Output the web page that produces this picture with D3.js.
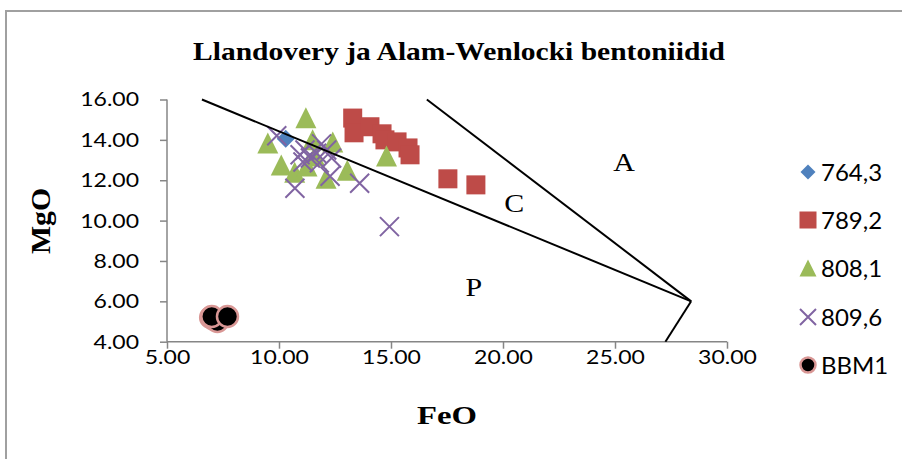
<!DOCTYPE html>
<html><head><meta charset="utf-8">
<script src="https://cdn.jsdelivr.net/npm/d3@7"></script>
<style>body{margin:0;background:#fff}svg{display:block}</style>
</head><body><svg id="c" width="902" height="459"></svg>
<script>
const xTicks = [5, 10, 15, 20, 25, 30];
const yTicks = [4, 6, 8, 10, 12, 14, 16];
const seriesNames = ["764,3", "789,2", "808,1", "809,6", "BBM1"];
const s764 = [[10.3, 14.05]];
const s789 = [[13.29,15.08],[13.35,14.35],[14.06,14.65],[14.6,14.3],[14.73,14.0],[15.27,13.9],[15.76,13.6],[15.85,13.26],[17.54,12.07],[18.79,11.77]];
const s808 = [[9.5,13.85],[11.2,15.1],[11.5,14.0],[12.4,13.9],[10.1,12.75],[10.7,12.4],[11.25,12.7],[12.1,12.1],[13.05,12.5],[14.8,13.2],[11.6,13.2]];
const s809 = [[9.9,14.2],[10.94,13.26],[11.16,13.5],[11.4,13.1],[11.68,13.34],[11.8,12.86],[12.13,13.5],[12.35,13.1],[12.28,12.2],[10.71,11.6],[13.6,11.85],[11.07,12.9],[11.9,13.8],[14.93,9.7]];
const sBBM = [[6.95,5.2],[7.1,5.1],[7.25,5.0],[7.0,5.25],[7.7,5.25]];
const fieldLines = [[[6.56,16],[28.4,6.0]], [[16.6,16],[28.4,6.0]], [[28.4,6.0],[27.25,4]]];
const fieldLabels = [["A",25.4,12.9],["C",20.5,10.9],["P",18.7,6.7]];
const titleText = "Llandovery ja Alam-Wenlocki bentoniidid";

const svg = d3.select("#c");
function stretch(sel, sx){ sel.each(function(){ const w=this.getComputedTextLength(); d3.select(this).attr("textLength", w*sx).attr("lengthAdjust","spacingAndGlyphs"); }); }
function fitTo(sel, w){ sel.attr("textLength", w).attr("lengthAdjust","spacingAndGlyphs"); }

// frame
svg.append("path").attr("d","M6,459 V11 H902").attr("fill","none").attr("stroke","#a0a0a0").attr("stroke-width",2);

const x = d3.scaleLinear().domain([5,30]).range([167,727]);
const y = d3.scaleLinear().domain([4,16]).range([341.7,99.5]);

const axisColor = "#868686";
const xa = svg.append("g").attr("transform","translate(0,341.7)").call(d3.axisBottom(x).tickValues(xTicks).tickFormat(d3.format(".2f")).tickSize(7).tickPadding(1));
const ya = svg.append("g").attr("transform","translate(167,0)").call(d3.axisLeft(y).tickValues(yTicks).tickFormat(d3.format(".2f")).tickSize(7).tickPadding(21));
[xa,ya].forEach(a=>{
  a.select(".domain").attr("stroke",axisColor).attr("stroke-width",1.5);
  a.selectAll(".tick line").attr("stroke",axisColor).attr("stroke-width",1.5);
  a.selectAll("text").attr("font-family","Lato, sans-serif").attr("font-size",20).attr("fill","#000");
});
ya.select(".domain").attr("d","M0,99.5V341.7");
xa.select(".domain").attr("d","M167,0H727");
stretch(xa.selectAll("text"),1.15); stretch(ya.selectAll("text"),1.15);

// title & axis titles
const serif = "'Liberation Serif', 'Times New Roman', serif";
const t = svg.append("text").attr("x",459).attr("y",60).attr("text-anchor","middle").attr("font-family",serif).attr("font-weight","bold").attr("font-size",26).text(titleText);
fitTo(t, 532);
const xt = svg.append("text").attr("x",447).attr("y",424).attr("text-anchor","middle").attr("font-family",serif).attr("font-weight","bold").attr("font-size",26).text("FeO");
fitTo(xt, 60);
const yt = svg.append("text").attr("transform","translate(50,221) rotate(-90)").attr("text-anchor","middle").attr("font-family",serif).attr("font-weight","bold").attr("font-size",27).text("MgO");
fitTo(yt, 66);

const plot = svg.append("g");
const cols = {d:"#4F81BD", s:"#BE4B48", t:"#9BBB59", x:"#8064A2"};

function diamond(g, cx, cy, r){ g.append("path").attr("d",`M${cx},${cy-r}L${cx+r},${cy}L${cx},${cy+r}L${cx-r},${cy}Z`).attr("fill",cols.d); }
function square(g, cx, cy, h){ g.append("rect").attr("x",cx-h).attr("y",cy-h).attr("width",2*h).attr("height",2*h).attr("fill",cols.s); }
function tri(g, cx, cy, h){ g.append("path").attr("d",`M${cx},${cy-h}L${cx+h},${cy+h}L${cx-h},${cy+h}Z`).attr("fill",cols.t); }
function cross(g, cx, cy, h){ g.append("path").attr("d",`M${cx-h},${cy-h}L${cx+h},${cy+h}M${cx+h},${cy-h}L${cx-h},${cy+h}`).attr("stroke",cols.x).attr("stroke-width",2); }
function circ(g, cx, cy, r){ g.append("circle").attr("cx",cx).attr("cy",cy).attr("r",r).attr("fill","#000").attr("stroke","#D99795").attr("stroke-width",2.5); }

s764.forEach(d=>diamond(plot,x(d[0]),y(d[1]),9));
s789.forEach(d=>square(plot,x(d[0]),y(d[1]),9.5));
s808.forEach(d=>tri(plot,x(d[0]),y(d[1]),10.5));
s809.forEach(d=>cross(plot,x(d[0]),y(d[1]),9.5));
sBBM.forEach(d=>circ(plot,x(d[0]),y(d[1]),10.5));

// field lines
svg.append("clipPath").attr("id","clip").append("rect").attr("x",167).attr("y",98).attr("width",560).attr("height",244);
const lg = svg.append("g").attr("clip-path","url(#clip)");
const line = d3.line().x(d=>x(d[0])).y(d=>y(d[1]));
fieldLines.forEach(l=>lg.append("path").attr("d",line(l)).attr("fill","none").attr("stroke","#000").attr("stroke-width",2));
fieldLabels.forEach(f=>{
  const lt = svg.append("text").attr("x",x(f[1])).attr("y",y(f[2])).attr("dy","0.35em").attr("text-anchor","middle").attr("font-family",serif).attr("font-size",26).text(f[0]);
  stretch(lt, 1.15);
});

// legend
const legY = [172, 220, 268, 317, 365];
const lgG = svg.append("g");
const mx = 808;
diamond(lgG, mx, legY[0], 7.5);
square(lgG, mx, legY[1], 8.5);
tri(lgG, mx, legY[2], 8.5);
cross(lgG, mx, legY[3], 8);
circ(lgG, mx, legY[4], 7.5);
seriesNames.forEach((n,i)=>{
  lgG.append("text").attr("x",821).attr("y",legY[i]).attr("dy","0.36em").attr("font-family","Lato, sans-serif").attr("font-size",24).text(n);
});
</script></body></html>
